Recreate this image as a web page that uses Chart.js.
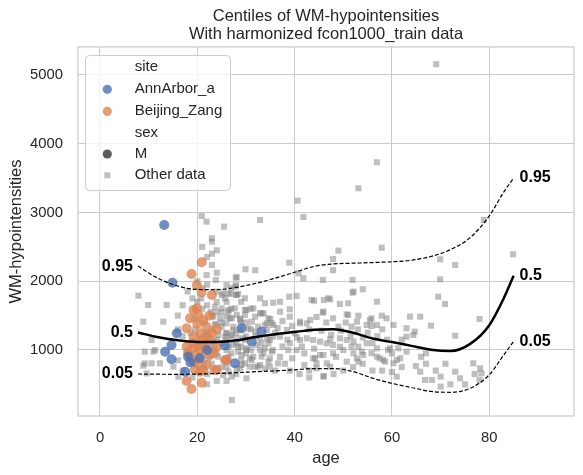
<!DOCTYPE html>
<html><head><meta charset="utf-8">
<script src="https://cdn.jsdelivr.net/npm/chart.js@4"></script>
<style>html,body{margin:0;padding:0;background:#fff;}canvas{display:block;}</style>
</head><body>
<canvas id="c" width="583" height="475"></canvas>
<script>
// ---------- text ----------
const titleLines = ['Centiles of WM-hypointensities', 'With harmonized fcon1000_train data'];
const xLabel = 'age';
const yLabel = 'WM-hypointensities';
const xTicks = [0, 20, 40, 60, 80];
const yTicks = [1000, 2000, 3000, 4000, 5000];
const legendSiteHeader = 'site';
const legendSites = ['AnnArbor_a', 'Beijing_Zang'];
const legendSexHeader = 'sex';
const legendSex = ['M'];
const legendOther = 'Other data';

// ---------- centile curves ----------
const centileAge = [7.8, 12, 16, 20, 24, 28, 32, 36, 40, 44, 48, 52, 56, 60, 64, 68, 72, 76, 80, 83, 85];
const centile05 = [651, 648, 646, 650, 658, 670, 684, 697, 712, 730, 730, 686, 590, 515, 455, 398, 385, 440, 640, 930, 1125];
const centile50 = [1255, 1185, 1140, 1118, 1118, 1140, 1190, 1230, 1262, 1295, 1303, 1250, 1168, 1115, 1060, 1005, 985, 1085, 1360, 1756, 2080];
const centile95 = [2220, 2040, 1930, 1880, 1878, 1910, 1968, 2045, 2130, 2215, 2252, 2262, 2272, 2283, 2305, 2360, 2458, 2630, 2950, 3300, 3500];
const centileNames = ['0.05', '0.5', '0.95'];

// ---------- site data ----------
const annArborAge = [13.2, 14.9, 15.8, 14.7, 13.4, 14.7, 17.5, 18.1, 18.6, 29.1, 33.2, 31.2, 27.7, 25.7, 20.5, 22.0];
const annArborWM  = [2818, 1979, 1243, 1073, 976, 865, 684, 903, 820, 1316, 1267, 1121, 806, 1065, 880, 1000];

const beijingAge = [20.9, 18.8, 19.9, 20.9, 23.0, 19.2, 19.9, 20.2, 18.5, 21.2, 17.8, 21.9, 24.0, 19.2, 20.6, 22.6, 17.8, 19.5, 21.6, 24.0, 18.5, 20.6, 22.6, 26.0, 19.9, 21.9, 24.0, 20.6, 17.8, 20.9, 18.8, 20.9, 23.3, 18.1, 25.7, 19.2, 21.2, 23.6, 19.5, 22.0, 20.0, 22.5, 19.0, 21.0, 23.0, 20.3];
const beijingWM  = [2276, 2105, 1945, 1840, 1800, 1582, 1607, 1509, 1461, 1436, 1316, 1339, 1300, 1194, 1243, 1145, 1048, 1025, 1025, 1048, 927, 903, 927, 855, 806, 782, 709, 684, 549, 524, 433, 1073, 952, 952, 855, 830, 709, 709, 709, 1200, 1380, 1500, 1100, 1150, 1250, 1000];

// ---------- other data (age, value) ----------
const otherData = [
[69.1,5156],[56.9,3730],[53.1,3352],[40.6,3172],[41.8,2935],[32.9,2891],[25.5,2794],[21.9,2866],[20.9,2949],[23.0,2625],[23.0,2575],
[57.9,2488],[49.0,2445],[47.9,2324],[38.9,2270],[31.9,2160],[29.9,2174],[23.0,2236],[24.0,2124],[21.9,2091],[27.9,2052],[23.8,2018],
[40.8,2115],[41.8,2043],[45.8,2018],[51.9,2018],[54.0,1883],[51.9,1834],[47.9,2160],[38.9,1775],[40.4,1785],[27.9,1921],[26.9,1815],
[28.4,1815],[7.9,1790],[78.9,2891],[84.9,2392],[69.9,2319],[73.0,2236],[69.9,2028],[70.9,1669],[56.9,1703],[44.0,1717],[46.0,1727],
[46.9,1752],[45.8,1543],[51.0,1679],[78.0,1451],[68.0,1354],[73.0,1208],[63.7,1485],[65.8,1485],[57.9,1499],[55.8,1461],[53.1,1499],
[51.0,1509],[49.0,1339],[54.8,1364],[56.9,1364],[63.0,1316],[64.7,1267],[63.0,1194],[64.4,1218],[59.6,1025],[61.0,855],[61.7,879],
[63.0,976],[67.0,952],[64.9,767],[65.8,684],[61.0,612],[66.8,564],[68.2,564],[70.0,612],[70.0,467],[73.0,684],[74.0,588],[76.7,806],
[78.1,733],[78.4,660],[78.0,564],[57.5,879],[58.6,830],[55.8,952],[56.9,903],[53.8,976],[53.1,1048],[52.1,1121],[50.7,1145],[49.3,1170],
[47.9,1073],[46.6,1097],[45.2,1121],[43.8,1145],[42.5,1170],[42.5,1388],[41.1,1388],[44.2,879],[45.2,927],[46.6,806],[47.9,952],
[50.0,1000],[52.1,952],[45.9,612],[47.3,757],[44.5,733],[53.1,830],[49.3,1669],[52.1,1849],[69.5,1775],
[28.1,2058],[26.0,1945],[27.9,1945],[25.3,1824],[32.9,1752],[35.6,1688],[43.5,1727],[47.3,1737],[37.0,1557],[39.0,1592],[39.0,1485],
[41.1,1412],[43.2,1436],[45.9,1557],[47.9,1461],[50.7,1519],[52.8,1412],[55.5,1436],[58.9,1461],[60.3,1364],[55.8,1349],[51.7,1339],
[32.9,1534],[33.9,1364],[35.6,1364],[38.4,1291],[40.1,1243],[41.1,1145],[47.3,1155],[49.3,1048],[51.7,1048],[54.8,1097],[56.9,1025],
[59.2,1000],[61.3,1025],[58.2,855],[60.3,806],[54.1,927],[52.8,879],[50.7,830],[45.9,927],[43.8,879],[44.5,806],[46.0,622],[37.0,1194],
[34.9,1145],[33.2,1097],[33.6,952],[34.9,879],[32.9,782],[31.2,855],[34.9,757],[36.6,806],[38.7,1000],[40.4,1000],[27.1,273],[27.1,612],
[30.1,588],[29.1,782],
[26.4,1582],[28.1,1509],[26.7,1461],[28.8,1436],[30.1,1582],[27.4,1339],[28.8,1291],[26.0,1243],[29.5,1170],[27.4,1073],[26.0,1000],
[28.4,976],[30.1,1025],[31.9,1485],[33.6,1534],[32.5,1339],[34.3,1388],[34.6,1097],[32.9,1000],[31.5,903],[30.8,757],[32.5,757],
[28.8,733],[26.4,684],[25.3,636],[9.9,1655],[13.7,1655],[8.9,1412],[13.0,1412],[10.6,1145],[9.2,976],[11.3,1000],[9.2,806],[12.3,806],
[15.1,757],[9.6,660],[11.0,976],[8.9,772],[10.6,806],[16.1,612],
[22,1200],[23,1300],[24,1150],[25,1400],[23,1500],[22,1650],[24,1700],[25,1100],[26,1250],[24,950],[23,800],[25,750],[22,650],[21,1600],
[20,1700],[19,1750],[21,1900],[22,1950],[24,1550],[25,1550],[26,1150],[27,1200],[27,950],[26,850],[28,1100],[28,1250],[29,1400],[27,1600],
[26,1700],[25,1800],[24,1850],[20,2000],[22,2350],[23,2400],[21,2500],[24,2450],[18,1850],[17,1650],[16,1500],[17,1200],[16,1300],
[18,1000],[16,850],[17,700],[19,600],[24,550],[22,500],[26,550],[28,650],[29,850],[30,950],[31,1000],[29,1050],[30,1200],[31,1300],
[32,1200],[30,1400],[31,1600],[29,1700],[28,1800],[27,1900],
[39,700],[41,650],[43,600],[38,800],[36,700],[37,900],[39,1100],[36,1250],[35,1450],[37,1700],
[25.7,1752],[26.4,1824],[28.1,1800],[29.8,1752],[33.9,1679],[23.6,1630],[25.0,1606],[26.4,1558],[27.7,1606],[29.8,1582],[31.5,1606],
[33.2,1533],[23.3,1485],[24.7,1461],[26.0,1485],[27.1,1461],[28.8,1461],[29.8,1509],[31.2,1412],[34.6,1461],[35.3,1388],[23.6,1364],
[25.0,1339],[26.0,1388],[27.4,1291],[30.5,1315],[31.9,1267],[34.3,1291],[24.3,1218],[25.7,1194],[27.1,1218],[28.4,1170],[29.8,1145],
[32.9,1170],[34.3,1170],[35.6,1194],[23.6,1025],[26.4,1048],[28.4,1048],[30.1,1000],[32.2,1073],[33.9,1025],[35.3,976],[24.3,903],
[26.4,903],[29.1,927],[30.8,879],[33.2,903],[34.6,830],[29.8,806],[26.0,757],[28.1,733],[31.9,757],[33.9,733],
[19.5,1300],[20.5,1150],[21.5,1400],[22.5,1050],[19.8,900],[21.3,800],[22.8,1550],[20.8,1750],[19.3,1450],[21.8,1250],[23.4,1120],
[22.2,880],[20.1,1050],[18.6,1250],[23.8,1380],
[36.5,1320],[37.5,1420],[38.5,1150],[39.5,1350],[40.5,1180],[41.5,1050],[42,950],[43,1300],[44,1020],[44.5,1480],[45.5,1280],
[46.5,1400],[47.5,1220],[48.5,900],[49.5,1280],[50.5,1400],[51.5,1200],[53,1300],[54,1180],[55,1250],[56,1100],[57,1200],[58,1300],
[59,1150],[60,950],[62,1150],[35.5,1000],[37.5,1050],[39.5,880],[42,780],[43,700],[48,650],[50,700],[52,750],[54,800],[56,700],
[58,700],[60,680],[62,750],[66,900],[67,800],[69,700],[71,800],[72,500],[75,500],[77,650]
];

// ---------- styles ----------
const FONT = '"Liberation Sans", Arial, sans-serif';
const TEXT = '#262626';
const GRID = '#cccccc';
const BLUE = 'rgba(76,114,176,0.8)';
const ORANGE = 'rgba(221,132,82,0.8)';
const GREY = 'rgba(128,128,128,0.5)';
const DARK = 'rgba(51,51,51,0.8)';
Chart.defaults.font.family = FONT;
Chart.defaults.color = TEXT;

const toXY = (xs, ys) => xs.map((x, i) => ({x: x, y: ys[i]}));

const framePlugin = {
  id: 'frame',
  beforeDatasetsDraw(chart) {
    const a = chart.chartArea, c = chart.ctx;
    c.save();
    c.strokeStyle = GRID; c.lineWidth = 1.25;
    c.strokeRect(a.left, a.top, a.right - a.left, a.bottom - a.top);
    c.restore();
  }
};

const curveLabelPlugin = {
  id: 'curveLabels',
  afterDatasetsDraw(chart) {
    const c = chart.ctx, xs = chart.scales.x, ys = chart.scales.y;
    const curves = [centile05, centile50, centile95];
    const n = centileAge.length;
    c.save();
    c.font = 'bold 16px ' + FONT;
    c.fillStyle = '#000';
    c.textBaseline = 'middle';
    curves.forEach((cv, i) => {
      const x0 = xs.getPixelForValue(centileAge[0]), y0 = ys.getPixelForValue(cv[0]);
      const x1 = xs.getPixelForValue(centileAge[n - 1]), y1 = ys.getPixelForValue(cv[n - 1]);
      c.textAlign = 'right'; c.fillText(centileNames[i], x0 - 5, y0);
      c.textAlign = 'left'; c.fillText(centileNames[i], x1 + 6, y1);
    });
    c.restore();
  }
};

const legendPlugin = {
  id: 'customLegend',
  afterDatasetsDraw(chart) {
    const c = chart.ctx;
    c.save();
    c.beginPath();
    c.roundRect(85.5, 55.5, 145, 135, 4);
    c.fillStyle = 'rgba(255,255,255,0.8)';
    c.fill();
    c.strokeStyle = GRID; c.lineWidth = 1;
    c.stroke();
    const rows = [
      {t: legendSiteHeader},
      {t: legendSites[0], m: 'c', col: BLUE},
      {t: legendSites[1], m: 'c', col: ORANGE},
      {t: legendSexHeader},
      {t: legendSex[0], m: 'c', col: DARK},
      {t: legendOther, m: 's', col: GREY}
    ];
    const ys = [67.3, 89.3, 111.3, 132.7, 154, 175.3];
    c.font = '15px ' + FONT;
    c.textBaseline = 'middle';
    c.textAlign = 'left';
    rows.forEach((r, i) => {
      const y = ys[i];
      if (r.m === 'c') {
        c.beginPath(); c.arc(107.3, y, 4.6, 0, Math.PI * 2); c.fillStyle = r.col; c.fill();
      } else if (r.m === 's') {
        c.fillStyle = r.col; c.fillRect(104.3, y - 3, 6, 6);
      }
      c.fillStyle = TEXT;
      c.fillText(r.t, 134.7, y);
    });
    c.restore();
  }
};

new Chart(document.getElementById('c'), {
  type: 'scatter',
  data: {
    datasets: [
      {label: centileNames[1], data: toXY(centileAge, centile50), showLine: true, borderColor: '#000', borderWidth: 2.5,
       pointRadius: 0, cubicInterpolationMode: 'monotone', order: 0},
      {label: centileNames[2], data: toXY(centileAge, centile95), showLine: true, borderColor: '#000', borderWidth: 1.2,
       borderDash: [4, 2], pointRadius: 0, cubicInterpolationMode: 'monotone', order: 0},
      {label: centileNames[0], data: toXY(centileAge, centile05), showLine: true, borderColor: '#000', borderWidth: 1.2,
       borderDash: [4, 2], pointRadius: 0, cubicInterpolationMode: 'monotone', order: 0},
      {label: legendSites[0], data: toXY(annArborAge, annArborWM), backgroundColor: BLUE, borderWidth: 0, pointRadius: 5, order: 1},
      {label: legendSites[1], data: toXY(beijingAge, beijingWM), backgroundColor: ORANGE, borderWidth: 0, pointRadius: 5, order: 1},
      {label: legendOther, data: otherData.map(p => ({x: p[0], y: p[1]})), backgroundColor: GREY, borderWidth: 0,
       pointStyle: 'rect', pointRadius: 4.3, order: 2}
    ]
  },
  options: {
    responsive: false, animation: false, devicePixelRatio: 1,
    layout: {padding: {left: 0, right: 9, top: 0, bottom: 0}},
    plugins: {
      legend: {display: false},
      tooltip: {enabled: false},
      title: {display: true, text: titleLines, fullSize: false, color: TEXT,
              font: {size: 16.5, lineHeight: 1.12, weight: 'normal'}, padding: {top: 6.8, bottom: 3.2}}
    },
    scales: {
      x: {
        type: 'linear', min: -4.52, max: 97.41,
        afterBuildTicks: s => { s.ticks = xTicks.map(v => ({value: v})); },
        afterFit: s => { s.height = 59; },
        grid: {color: GRID, lineWidth: 1, drawTicks: false},
        border: {display: false},
        ticks: {font: {size: 14.8}, color: TEXT, padding: 13, maxRotation: 0, callback: v => String(v)},
        title: {display: true, text: xLabel, color: TEXT, font: {size: 16.5}, padding: {top: 0, bottom: 7}}
      },
      y: {
        type: 'linear', min: 40, max: 5407,
        afterBuildTicks: s => { s.ticks = yTicks.map(v => ({value: v})); },
        afterFit: s => { s.width = 78; },
        grid: {color: GRID, lineWidth: 1, drawTicks: false},
        border: {display: false},
        ticks: {font: {size: 14.8}, color: TEXT, padding: 15, callback: v => String(v)},
        title: {display: true, text: yLabel, color: TEXT, font: {size: 16.5}, padding: {top: 7, bottom: 0}}
      }
    }
  },
  plugins: [framePlugin, curveLabelPlugin, legendPlugin]
});
</script>
</body></html>
